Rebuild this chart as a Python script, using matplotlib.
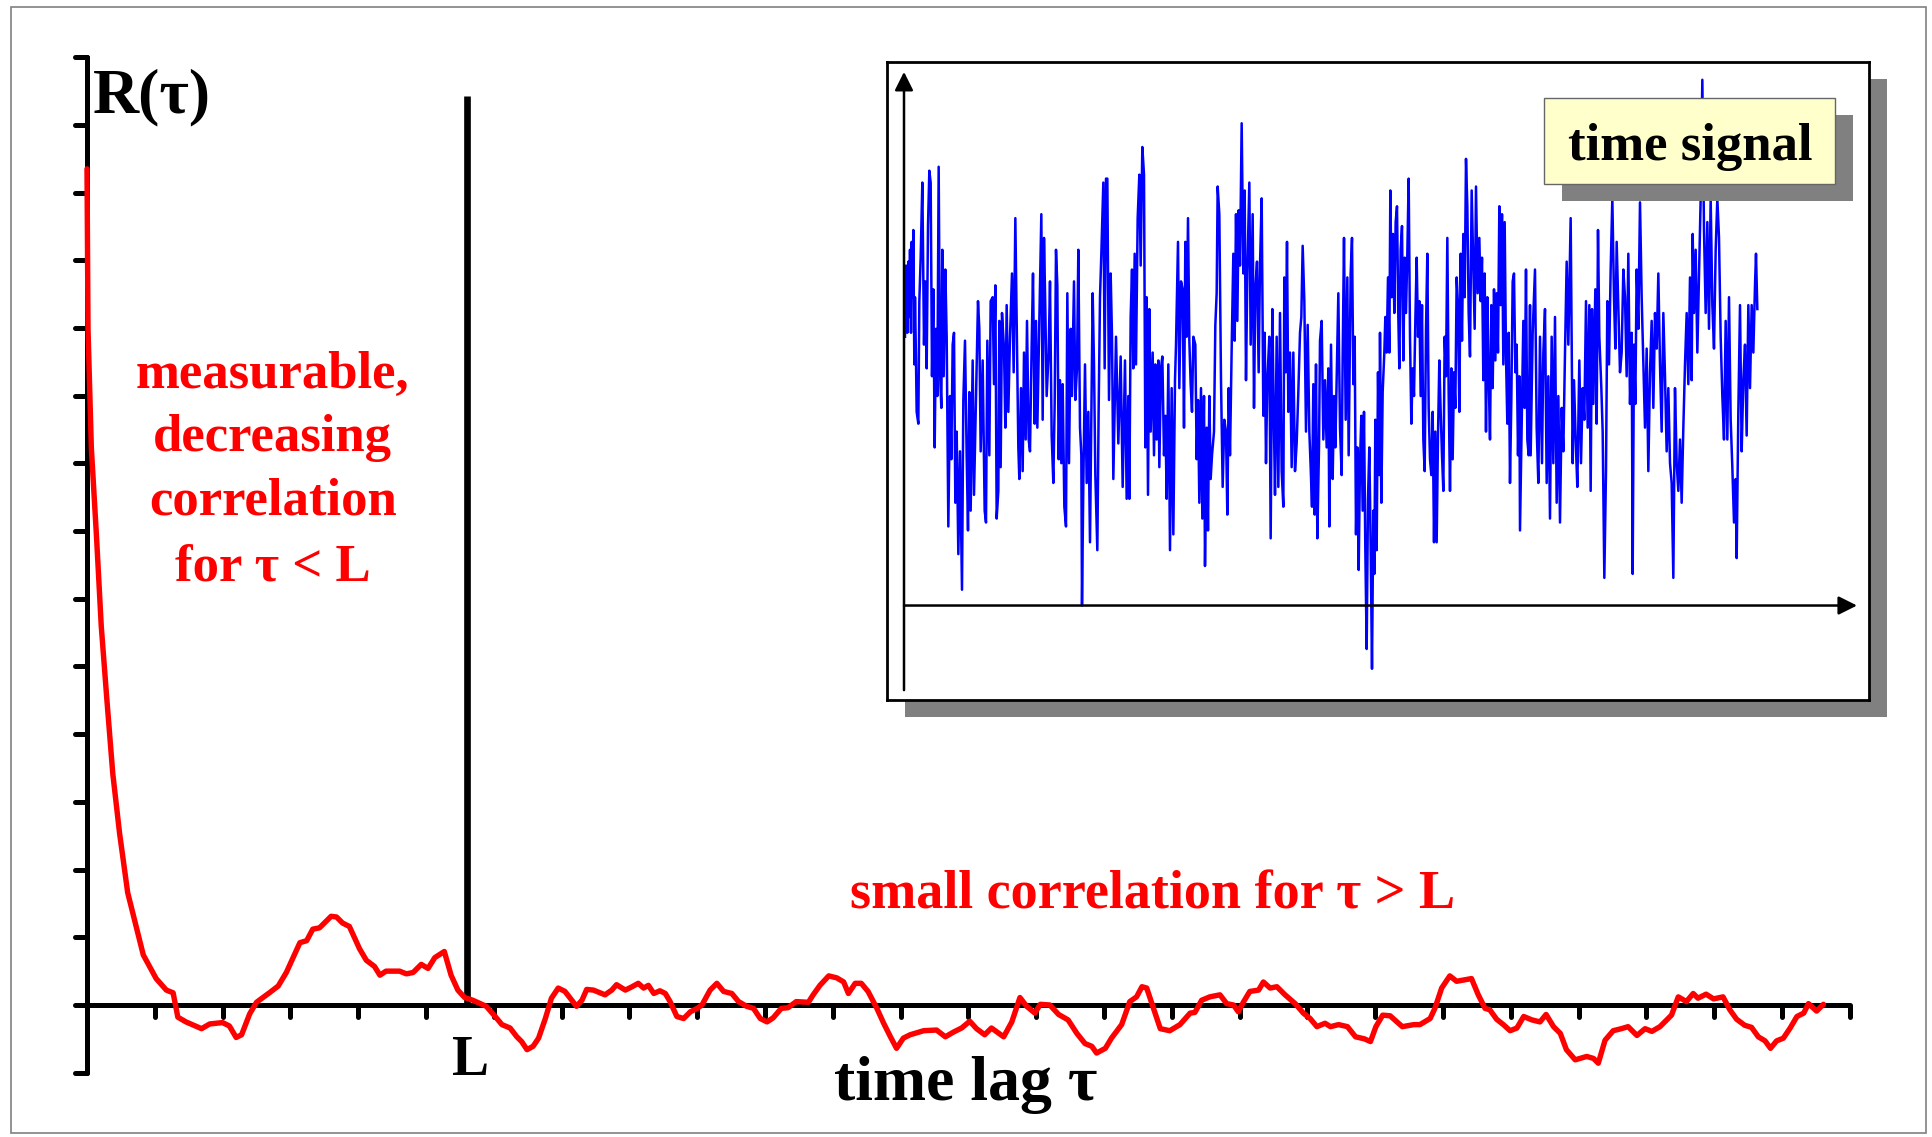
import matplotlib
matplotlib.use('Agg')
import matplotlib.pyplot as plt
from matplotlib.patches import Rectangle
import numpy as np

# autocorrelation R(tau); lag and R in tick units
lag = [0, 0.015, 0.064, 0.14, 0.21, 0.29, 0.38, 0.48, 0.60, 0.73, 0.83, 1.02, 1.17, 1.27, 1.34, 1.46,
       1.69, 1.81, 2.00, 2.10, 2.20, 2.28, 2.40, 2.50, 2.69, 2.82, 2.94, 3.14, 3.24, 3.33, 3.43, 3.60,
       3.68, 3.77, 3.87, 4.02, 4.12, 4.24, 4.32, 4.41, 4.61, 4.71, 4.81, 4.93, 5.03, 5.13, 5.27, 5.37,
       5.47, 5.57, 5.69,
       5.80, 5.89, 6.02, 6.12, 6.24, 6.34, 6.41, 6.49, 6.58, 6.66, 6.76, 6.85, 6.95, 7.05, 7.15, 7.22,
       7.30, 7.37, 7.47, 7.64, 7.74, 7.81, 7.94, 8.04, 8.13, 8.21, 8.28, 8.36, 8.45, 8.53, 8.60, 8.70,
       8.80, 8.90, 9.00, 9.07, 9.19, 9.29, 9.39, 9.51, 9.61, 9.73, 9.83, 9.93, 10.03, 10.12, 10.24,
       10.34, 10.46, 10.64, 10.71, 10.81, 10.94, 11.06, 11.16, 11.23, 11.33, 11.42, 11.52, 11.65, 11.75,
       11.85, 11.94, 12.04, 12.14, 12.34, 12.53, 12.66, 12.78, 12.90, 13.02,
       13.12, 13.24, 13.34, 13.52, 13.64, 13.76, 13.86, 13.98, 14.06, 14.20, 14.33, 14.47, 14.60, 14.72,
       14.82, 14.89, 15.02, 15.11, 15.26, 15.38, 15.48, 15.56, 15.63, 15.73, 15.83, 15.97, 16.12, 16.27,
       16.34, 16.44, 16.56, 16.71, 16.81, 16.91, 16.98, 17.06, 17.15, 17.28, 17.35, 17.45, 17.55, 17.67,
       17.82, 17.94, 18.04, 18.14, 18.26, 18.34, 18.46, 18.59, 18.71, 18.84, 18.93, 19.01, 19.11, 19.22,
       19.40, 19.57, 19.66, 19.81, 19.88, 19.98, 20.10, 20.20,
       20.42, 20.52, 20.62, 20.69, 20.79, 20.89, 20.99, 21.09, 21.19, 21.31, 21.43, 21.52, 21.63, 21.73,
       21.82, 21.95, 22.12, 22.22, 22.29, 22.39, 22.51, 22.63, 22.73, 22.86, 22.98, 23.08, 23.20, 23.30,
       23.37, 23.47, 23.59, 23.69, 23.76, 23.88, 23.99, 24.13, 24.23, 24.33, 24.45, 24.55, 24.65, 24.75,
       24.83, 24.92, 25.02, 25.12, 25.22, 25.32, 25.39, 25.51, 25.61]
R = [12.35, 9.98, 8.23, 6.92, 5.60, 4.55, 3.42, 2.54, 1.66, 1.14, 0.74, 0.39, 0.22, 0.18, -0.18, -0.25,
     -0.35, -0.28, -0.26, -0.31, -0.48, -0.44, -0.13, 0.04, 0.18, 0.28, 0.48, 0.92, 0.95, 1.12, 1.14, 1.31,
     1.30, 1.21, 1.16, 0.83, 0.66, 0.57, 0.44, 0.50, 0.50, 0.46, 0.48, 0.60, 0.54, 0.70, 0.79, 0.44,
     0.22, 0.11, 0.07,
     0.02, -0.02, -0.17, -0.29, -0.34, -0.47, -0.54, -0.66, -0.61, -0.49, -0.20, 0.10, 0.25, 0.20, 0.07, -0.02,
     0.07, 0.23, 0.22, 0.15, 0.22, 0.30, 0.22, 0.27, 0.32, 0.25, 0.29, 0.17, 0.21, 0.17, 0.05, -0.17,
     -0.20, -0.10, -0.05, 0.00, 0.22, 0.32, 0.20, 0.17, 0.05, -0.02, -0.05, -0.20, -0.25, -0.19, -0.05,
     -0.04, 0.05, 0.04, 0.15, 0.29, 0.43, 0.40, 0.34, 0.17, 0.32, 0.32, 0.20, -0.05, -0.27,
     -0.47, -0.64, -0.49, -0.44, -0.38, -0.37, -0.47, -0.40, -0.34, -0.24,
     -0.35, -0.44, -0.34, -0.47, -0.25, 0.11, -0.02, -0.12, 0.01, 0.00, -0.14, -0.22, -0.42, -0.57,
     -0.61, -0.71, -0.64, -0.49, -0.29, 0.05, 0.12, 0.27, 0.25, -0.05, -0.35, -0.38, -0.29, -0.12,
     -0.11, 0.07, 0.12, 0.15, 0.02, 0.00, -0.10, 0.05, 0.20, 0.22, 0.34, 0.25, 0.27, 0.15,
     0.02, -0.12, -0.20, -0.32, -0.27, -0.32, -0.29, -0.32, -0.47, -0.50, -0.54, -0.32, -0.15, -0.16,
     -0.32, -0.29, -0.29, -0.20, -0.05, 0.25, 0.43, 0.35,
     0.39, 0.15, -0.05, -0.07, -0.21, -0.29, -0.38, -0.34, -0.17, -0.22, -0.25, -0.14, -0.32, -0.42,
     -0.66, -0.81, -0.76, -0.79, -0.86, -0.52, -0.38, -0.35, -0.32, -0.45, -0.35, -0.39, -0.32, -0.22,
     -0.15, 0.12, 0.05, 0.17, 0.10, 0.16, 0.09, 0.12, -0.07, -0.21, -0.30, -0.33, -0.47, -0.53,
     -0.64, -0.53, -0.49, -0.34, -0.17, -0.12, 0.02, -0.09, 0.01]

L = 5.6
R_ticks = np.arange(-1, 15)
lag_ticks = np.arange(1, 27)

# time signal samples (time, amplitude)
signal = [
    (15, 68), (18, 86), (22, 69), (25, 87), (28, 73), (30, 90), (33, 69), (35, 92), (38, 78), (40, 95),
    (43, 61), (45, 78), (48, 62), (50, 49), (55, 46), (58, 77), (62, 88), (67, 107), (72, 66), (76, 82),
    (80, 60), (84, 96), (88, 110), (92, 107), (96, 58), (100, 80), (104, 40), (108, 70), (112, 53), (116, 111),
    (120, 59), (124, 50), (127, 90), (131, 58), (136, 85), (140, 68), (145, 20), (150, 53), (154, 37), (158, 66),
    (162, 69), (166, 26), (170, 44), (175, 13), (180, 39), (186, 4), (190, 52), (195, 67), (200, 38), (204, 19),
    (208, 54), (212, 24), (218, 62), (222, 28), (228, 52), (234, 77), (238, 70), (242, 39), (248, 62), (254, 24),
    (258, 21), (262, 67), (268, 38), (272, 77), (278, 78), (282, 56), (286, 81), (290, 22), (295, 29), (298, 72),
    (302, 35), (306, 74), (312, 65), (316, 45), (320, 76), (325, 49), (330, 68), (336, 84), (341, 59), (346, 98),
    (350, 72), (355, 40), (358, 32), (363, 55), (368, 34), (372, 64), (377, 42), (381, 72), (386, 42), (390, 39),
    (395, 66), (399, 84), (404, 46), (408, 72), (412, 45), (418, 72), (424, 99), (428, 47), (432, 93), (436, 75),
    (440, 53), (446, 64), (450, 82), (455, 43), (460, 31), (464, 51), (468, 90), (472, 81), (476, 37), (480, 57),
    (484, 36), (488, 56), (493, 25), (498, 20), (502, 79), (507, 36), (512, 70), (516, 53), (522, 82), (526, 52),
    (531, 60), (535, 90), (540, 45), (544, 38), (546, 0), (550, 31), (555, 61), (560, 31), (565, 49), (570, 16),
    (574, 48), (578, 79), (582, 61), (586, 33), (592, 14), (596, 50), (600, 78), (604, 89), (610, 107), (614, 60),
    (618, 108), (622, 108), (627, 52),
    (632, 84), (636, 68), (640, 32), (648, 68), (655, 41), (662, 63), (668, 30), (675, 62), (680, 27), (685, 53),
    (688, 27), (692, 73), (696, 85), (700, 60), (704, 89), (708, 61), (713, 98), (718, 109), (722, 86), (727, 116),
    (732, 109), (736, 40), (740, 78), (744, 28), (748, 75), (752, 44), (758, 64), (762, 38), (766, 61), (770, 42),
    (775, 62), (778, 35), (783, 60), (787, 63), (792, 38), (796, 48), (800, 27), (805, 61), (810, 14), (815, 55),
    (820, 18), (825, 57), (828, 66), (834, 92), (838, 55), (843, 82), (848, 80), (852, 45), (856, 92), (860, 68),
    (864, 98), (868, 67), (872, 56), (876, 49), (880, 68), (886, 66), (890, 37), (894, 52), (898, 26), (903, 55),
    (907, 22), (912, 53), (915, 10), (920, 45), (924, 19), (928, 53), (932, 32), (936, 38), (942, 44), (946, 71),
    (950, 79), (953, 106), (958, 99), (963, 57), (968, 30), (973, 47), (978, 44), (982, 23), (986, 55), (990, 38),
    (995, 65), (1000, 89), (1004, 67), (1008, 99), (1012, 72), (1016, 100), (1020, 86), (1025, 122), (1030, 84),
    (1034, 105), (1038, 57), (1042, 84), (1048, 107), (1052, 66), (1058, 99), (1062, 50), (1066, 80), (1071, 87),
    (1076, 59), (1080, 86), (1085, 103), (1090, 48), (1094, 69), (1098, 36), (1102, 57), (1108, 68), (1112, 17),
    (1117, 75), (1121, 50), (1125, 28), (1130, 68), (1135, 30), (1140, 74), (1145, 34), (1150, 25), (1153, 83),
    (1157, 59), (1161, 92), (1165, 49), (1170, 64), (1175, 35), (1180, 64), (1185, 34), (1190, 41), (1195, 54),
    (1200, 69), (1204, 73), (1208, 91), (1213, 77), (1218, 44), (1223, 71), (1228, 44), (1232, 35), (1236, 25),
    (1240, 56), (1244, 23), (1248, 61), (1252, 17), (1257, 40),
    (1260, 67), (1265, 72), (1270, 42), (1275, 57), (1280, 40), (1285, 60), (1288, 20), (1293, 66), (1298, 32),
    (1302, 53), (1306, 40), (1310, 58), (1315, 79), (1320, 45), (1325, 33), (1328, 63), (1332, 93), (1337, 47),
    (1342, 83), (1346, 38), (1352, 84), (1356, 93), (1360, 56), (1364, 68), (1368, 18), (1372, 40), (1376, 9),
    (1380, 36), (1384, 48), (1388, 24), (1392, 49), (1396, 14), (1400, -11), (1404, 27), (1408, 40), (1412, 15),
    (1416, -16), (1420, 24), (1423, 8), (1426, 47), (1430, 14), (1434, 59), (1438, 33), (1440, 69), (1444, 26),
    (1448, 54), (1453, 64), (1456, 73), (1460, 64), (1464, 83), (1468, 64), (1471, 105), (1475, 78), (1479, 94),
    (1483, 74), (1487, 97), (1491, 101), (1495, 73), (1498, 60), (1502, 90), (1506, 96), (1510, 62), (1514, 88),
    (1518, 74), (1522, 89), (1526, 108), (1530, 68), (1534, 46), (1538, 60), (1542, 53), (1546, 72), (1550, 88),
    (1554, 68), (1558, 77), (1562, 53), (1566, 76), (1570, 42), (1574, 34), (1578, 70), (1582, 89), (1586, 50),
    (1590, 37), (1594, 33), (1598, 49), (1602, 16), (1606, 44), (1610, 16), (1614, 43), (1618, 62), (1622, 49),
    (1626, 38), (1630, 29), (1634, 68), (1638, 58), (1642, 93), (1646, 54), (1650, 29), (1654, 60), (1658, 37),
    (1662, 59), (1666, 50), (1670, 83), (1674, 76), (1678, 49), (1682, 89), (1686, 67), (1690, 94), (1694, 78),
    (1698, 113), (1702, 101), (1706, 74), (1710, 63), (1715, 105), (1720, 86), (1724, 70), (1728, 106), (1733, 79),
    (1738, 93), (1742, 77), (1746, 88), (1750, 57), (1754, 84), (1758, 44), (1762, 78), (1766, 58), (1770, 42),
    (1774, 76), (1778, 55), (1782, 80), (1786, 62), (1790, 79), (1794, 64), (1798, 101), (1802, 76), (1806, 99),
    (1810, 61), (1814, 97), (1818, 63), (1822, 46), (1826, 69), (1830, 31), (1834, 52), (1838, 82), (1842, 84),
    (1846, 59), (1850, 66), (1854, 38), (1858, 58), (1860, 19), (1865, 46), (1870, 72), (1874, 50), (1878, 85),
    (1882, 42), (1886, 38),
    (1890, 76), (1892, 38), (1898, 69), (1905, 85), (1910, 45), (1915, 31), (1920, 68), (1926, 36), (1930, 64),
    (1935, 75), (1940, 31), (1945, 58), (1950, 22), (1955, 68), (1960, 36), (1965, 73), (1970, 26), (1975, 53),
    (1980, 21), (1985, 50), (1990, 39), (1995, 64), (2000, 87), (2005, 66), (2012, 98), (2018, 36), (2022, 57),
    (2027, 42), (2032, 30), (2038, 62), (2043, 36), (2048, 55), (2053, 47), (2058, 77), (2063, 45), (2068, 76),
    (2072, 29), (2076, 75), (2080, 51), (2086, 80), (2090, 46), (2094, 95), (2098, 68), (2104, 55), (2108, 44),
    (2113, 7), (2118, 34), (2122, 77), (2127, 61), (2132, 85), (2137, 103), (2142, 78), (2146, 65), (2150, 92),
    (2155, 75), (2160, 59), (2165, 64), (2170, 85), (2175, 78), (2180, 58), (2185, 89), (2190, 51), (2195, 69),
    (2198, 8), (2202, 66), (2206, 51), (2210, 85), (2215, 70), (2220, 102), (2225, 78), (2230, 61), (2235, 45),
    (2240, 65), (2245, 34), (2250, 59), (2255, 72), (2260, 50), (2265, 74), (2270, 65), (2275, 84), (2280, 61),
    (2285, 44), (2290, 74), (2295, 58), (2300, 39), (2305, 55), (2310, 36), (2315, 31), (2320, 7), (2325, 55),
    (2330, 36), (2335, 29), (2340, 42), (2345, 26), (2350, 45), (2355, 61), (2360, 74), (2365, 56), (2370, 83),
    (2375, 57), (2378, 94), (2382, 74), (2387, 90), (2392, 64), (2397, 83), (2402, 103), (2407, 133), (2412, 95),
    (2417, 74), (2422, 97), (2427, 70), (2432, 103), (2437, 76), (2442, 65), (2447, 90), (2452, 103), (2457, 93),
    (2462, 68), (2467, 53), (2472, 42), (2477, 72), (2482, 42), (2487, 78), (2492, 47), (2497, 35), (2502, 21),
    (2507, 32), (2510, 12), (2515, 49), (2520, 76), (2525, 39), (2530, 57), (2535, 66), (2540, 43), (2545, 76),
    (2550, 55), (2555, 76), (2560, 64), (2565, 81), (2568, 89), (2572, 75),
]
sig_t = [p[0] for p in signal]
sig_a = [p[1] for p in signal]

serif = 'Liberation Serif'
W, H = 1932, 1137

fig = plt.figure(figsize=(W / 100, H / 100), dpi=100)
ax = fig.add_axes([0, 0, 1, 1])
ax.set_xlim(-1.2832, 27.212)
ax.set_ylim(-1.95, 14.845)
ax.axis('off')

# thin grey frame around everything
ax.add_patch(Rectangle((11 / W, 4 / H), (1926 - 11) / W, (1130 - 4) / H, transform=fig.transFigure,
                       fill=False, ec='#808080', lw=1.2))

# axes drawn by hand
ax.plot([0, 0], [-1, 14], color='k', lw=3.6, solid_capstyle='round')
ax.hlines(R_ticks, -0.18, 0, colors='k', lw=3.6, capstyle='round')
ax.plot([-0.12, 26], [0, 0], color='k', lw=3.6, solid_capstyle='butt')
ax.vlines(lag_ticks, -0.18, 0, colors='k', lw=3.6, capstyle='round')
ax.plot([L, L], [0, 13.42], color='k', lw=4.8, solid_capstyle='butt')

ax.plot(lag, R, color='#FF0000', lw=3.9, zorder=5, solid_joinstyle='round', solid_capstyle='round')

ax.text(0.09, 13.4, 'R(τ)', fontsize=46, fontweight='bold', family=serif, ha='left', va='center')
ax.text(L + 0.06, -1.04, 'L', fontsize=40, fontweight='bold', family=serif, ha='center', va='baseline')
ax.text(12.96, -1.41, 'time lag τ', fontsize=46, fontweight='bold', family=serif, ha='center', va='baseline')
ax.text(15.72, 1.43, 'small correlation for τ > L', fontsize=39, fontweight='bold', family=serif,
        color='#FF0000', ha='center', va='baseline')
for line, yb in zip(['measurable,', 'decreasing', 'correlation', 'for τ < L'], [9.11, 8.18, 7.24, 6.27]):
    ax.text(2.74, yb, line, fontsize=38, fontweight='bold', family=serif, color='#FF0000',
            ha='center', va='baseline')

# inset with the time signal
bx0, by0, bx1, by1 = 887, 62, 1869, 700
ax.add_patch(Rectangle(((bx0 + 18) / W, 1 - (by1 + 17) / H), (bx1 - bx0) / W, (by1 - by0) / H,
                       transform=fig.transFigure, fc='#808080', ec='none'))
ax_in = fig.add_axes([bx0 / W, 1 - by1 / H, (bx1 - bx0) / W, (by1 - by0) / H])
ax_in.set_xlim(-39, 2907)
ax_in.set_ylim(-23.9, 137.5)
ax_in.set_xticks([])
ax_in.set_yticks([])
for sp in ax_in.spines.values():
    sp.set_linewidth(2.0)
    sp.set_color('k')

ax_in.plot(sig_t, sig_a, color='#0000FF', lw=1.8, zorder=2)
ax_in.annotate('', xy=(2871, 0), xytext=(12, 0),
               arrowprops=dict(arrowstyle='-|>', color='k', lw=1.8, mutation_scale=28, shrinkA=0, shrinkB=0))
ax_in.annotate('', xy=(12, 135), xytext=(12, -21.4),
               arrowprops=dict(arrowstyle='-|>', color='k', lw=1.8, mutation_scale=28, shrinkA=0, shrinkB=0))

ax_in.add_patch(Rectangle((1986, 102.3), 873, 21.76, fc='#808080', ec='none', zorder=6))
ax_in.add_patch(Rectangle((1932, 106.63), 873, 21.76, fc='#FFFFCC', ec='#666666', lw=1, zorder=7))
ax_in.text(2370, 112.7, 'time signal', fontsize=38, fontweight='bold', family=serif,
           ha='center', va='baseline', zorder=8)

fig.savefig('out.png', dpi=100)
